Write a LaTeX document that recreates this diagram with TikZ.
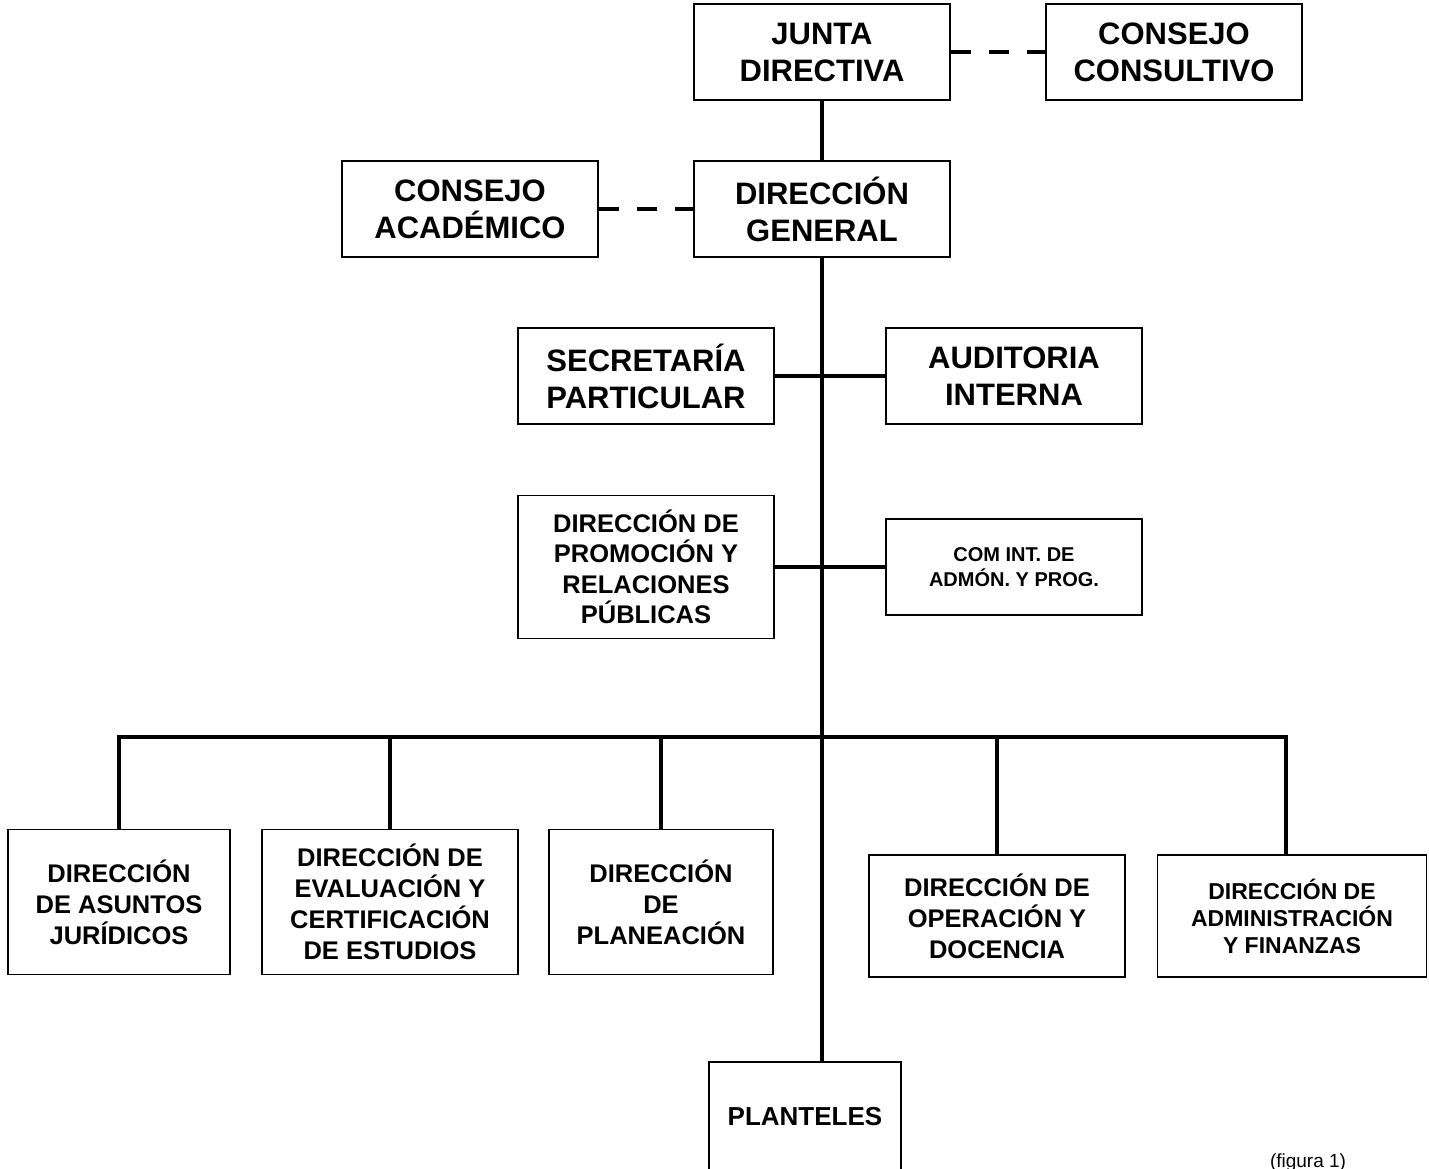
\documentclass[tikz,border=0pt]{standalone}
\usepackage{fontspec}
\setmainfont{Liberation Sans}

\begin{document}
\begin{tikzpicture}[
x=1pt,y=-1pt,
unit/.style={draw,line width=1.6pt,align=center,inner sep=2pt,minimum width=256pt,minimum height=96pt,font=\bfseries\fontsize{31}{37}\selectfont},
area/.style={unit,font=\bfseries\fontsize{25.5}{31}\selectfont},
link/.style={line width=4.5pt},
advice/.style={line width=4.5pt,dash pattern=on 20pt off 18pt}]
    % Page frame
    \useasboundingbox (0,0) rectangle (1429,1169);
    \clip (0,0) rectangle (1429,1169);
    \fill[white] (0,0) rectangle (1429,1169);

    % Top levels
    \node[unit] (junta) at (822,52) {JUNTA\\DIRECTIVA};
    \node[unit] (consultivo) at (1174,52) {CONSEJO\\CONSULTIVO};
    \node[unit] (academico) at (470,209) {CONSEJO\\ACADÉMICO};
    \node[unit] (general) at (822,209) {DIRECCIÓN\\GENERAL};
    \node[unit] (secretaria) at (646,376) {SECRETARÍA\\PARTICULAR};
    \node[unit] (auditoria) at (1014,376) {AUDITORIA\\INTERNA};
    \node[area,minimum height=143pt,font=\bfseries\fontsize{25.5}{30.5}\selectfont] (promocion) at (646,567) {DIRECCIÓN DE\\PROMOCIÓN Y\\RELACIONES\\PÚBLICAS};
    \node[unit,font=\bfseries\fontsize{20}{25}\selectfont] (comision) at (1014,567) {COM INT. DE\\ADMÓN. Y PROG.};

    % Directions
    \node[area,minimum width=222pt,minimum height=145pt] (juridicos) at (119,902) {DIRECCIÓN\\DE ASUNTOS\\JURÍDICOS};
    \node[area,minimum height=145pt] (evaluacion) at (390,902) {DIRECCIÓN DE\\EVALUACIÓN Y\\CERTIFICACIÓN\\DE ESTUDIOS};
    \node[area,minimum width=224pt,minimum height=145pt] (planeacion) at (661,902) {DIRECCIÓN\\DE\\PLANEACIÓN};
    \node[area,minimum height=122pt] (operacion) at (997,916) {DIRECCIÓN DE\\OPERACIÓN Y\\DOCENCIA};
    \node[area,minimum width=269pt,minimum height=122pt,font=\bfseries\fontsize{23}{27}\selectfont] (finanzas) at (1292,916) {DIRECCIÓN DE\\ADMINISTRACIÓN\\Y FINANZAS};
    \node[area,minimum width=192pt,minimum height=110pt,font=\bfseries\fontsize{26}{31}\selectfont] (planteles) at (805,1117) {PLANTELES};
    \node[anchor=base,font=\fontsize{19}{23}\selectfont] (figura) at (1308,1167) {(figura 1)};

    % Lines
    \draw[advice] (junta) -- (consultivo);
    \draw[advice] (academico) -- (general);
    \draw[link] (junta) -- (general);
    \draw[link] (general) -- (general.south |- planteles.north);
    \draw[link] (secretaria) -- (auditoria);
    \draw[link] (promocion) -- (comision);

    \coordinate (bus) at (822,737);
    \draw[link] (juridicos.north) |- (bus) -| ([xshift=-6pt]finanzas.north);
    \foreach \d in {evaluacion,planeacion,operacion}
        \draw[link] (\d.north) -- (\d.north |- bus);

\end{tikzpicture}
\end{document}
